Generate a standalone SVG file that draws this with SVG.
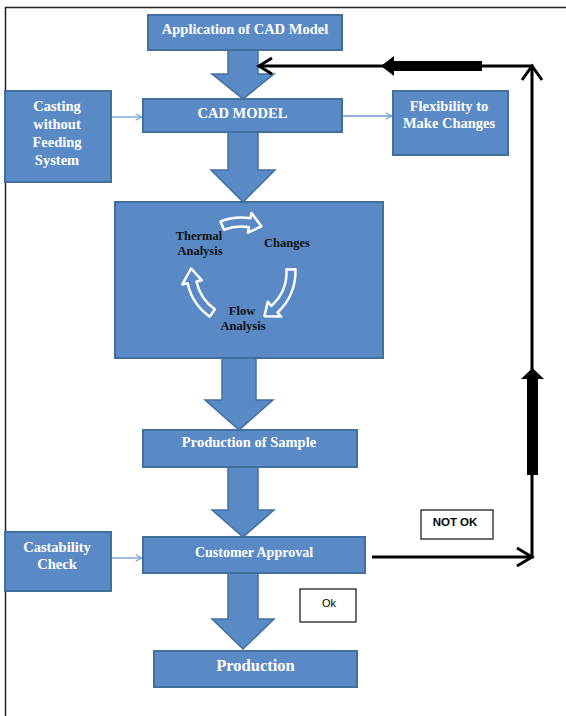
<svg xmlns="http://www.w3.org/2000/svg" width="566" height="716" viewBox="0 0 566 716">
<style>
.box{fill:#5a8ac6;stroke:#41709f;stroke-width:2}
.blk{fill:#5a8ac6;stroke:#41709f;stroke-width:1.5;stroke-linejoin:miter}
.t{font-family:"Liberation Serif",serif;font-weight:bold;font-size:14.5px;fill:#fff;text-anchor:middle}
.c{font-family:"Liberation Serif",serif;font-weight:bold;font-size:12.5px;fill:#111;text-anchor:middle}
.cyc{fill:#5a8ac6;stroke:#fff;stroke-width:2.5;stroke-linejoin:round}
.thin{stroke:#6f9ad0;stroke-width:1.3;fill:none}
.bl{stroke:#000;stroke-width:3;fill:none}
.lbl{fill:#fff;stroke:#222;stroke-width:1.3}
.s{font-family:"Liberation Sans",Arial,sans-serif;font-size:11px;fill:#000;text-anchor:middle}
</style>
<defs>
<marker id="open" viewBox="0 0 10 10" refX="9" refY="5" markerWidth="8" markerHeight="8" markerUnits="userSpaceOnUse" orient="auto">
<path d="M1,1 L9,5 L1,9" fill="none" stroke="#6f9ad0" stroke-width="1.3"/>
</marker>
</defs>
<rect width="566" height="716" fill="#fff"/>
<path d="M5.5,716 V7.5 H566" fill="none" stroke="#222" stroke-width="1.5"/>

<g id="connectors">
<polygon class="blk" points="228,50 258,50 258,74 274,74 243,99 212,74 228,74"/>
<polygon class="blk" points="228,132 258,132 258,170 275,170 243,202 211,170 228,170"/>
<polygon class="blk" points="222,358 256,358 256,400 273,400 239,430 205,400 222,400"/>
<polygon class="blk" points="228,467 258,467 258,510 274,510 243,537 212,510 228,510"/>
<polygon class="blk" points="228,573 258,573 258,619 274,619 243,649 212,619 228,619"/>
<line class="thin" x1="111" y1="117" x2="142" y2="117" marker-end="url(#open)"/>
<line class="thin" x1="342" y1="116" x2="392" y2="116" marker-end="url(#open)"/>
<line class="thin" x1="111" y1="558" x2="142" y2="558" marker-end="url(#open)"/>
<path class="bl" d="M372,557 H532 V66 H259"/>
<polyline class="bl" points="517,548 532,557 517,566"/>
<polyline class="bl" points="522,80 532,66 542,80"/>
<polyline class="bl" points="272,58 259,66 272,74"/>
<rect x="527" y="378" width="11" height="97" fill="#000"/>
<polygon points="532.5,368 544,379 521,379" fill="#000"/>
<rect x="392" y="61" width="90" height="10" fill="#000"/>
<polygon points="381,66 394,56 394,76" fill="#000"/>
</g>

<g id="app">
<rect class="box" x="148" y="15" width="194" height="35"/>
<text class="t" x="245" y="34">Application of CAD Model</text>
</g>
<g id="cad">
<rect class="box" x="143" y="99" width="199" height="33"/>
<text class="t" x="242.5" y="118">CAD MODEL</text>
</g>
<g id="casting">
<rect class="box" x="5" y="91" width="106" height="91"/>
<text class="t" x="57" y="111">Casting</text>
<text class="t" x="57" y="129">without</text>
<text class="t" x="57" y="147">Feeding</text>
<text class="t" x="57" y="165">System</text>
</g>
<g id="flex">
<rect class="box" x="393" y="91" width="115" height="64"/>
<text class="t" x="449" y="111">Flexibility to</text>
<text class="t" x="449" y="128">Make Changes</text>
</g>
<g id="analysis">
<rect class="box" x="115" y="202" width="268" height="156"/>
<path class="cyc" d="M220.58,221.47 A54.5,54.5 0 0 1 250.46,218.33 L251.42,212.91 L261.34,226.32 L247.94,232.61 L248.90,227.19 A45.5,45.5 0 0 0 223.96,229.81 Z"/>
<path class="cyc" d="M295.42,269.15 A54.5,54.5 0 0 1 277.47,312.50 L281.15,316.59 L264.47,316.15 L267.76,301.72 L271.44,305.81 A45.5,45.5 0 0 0 286.44,269.62 Z"/>
<path class="cyc" d="M209.74,316.65 A54.5,54.5 0 0 1 187.69,283.33 L182.31,284.47 L191.12,268.51 L201.88,280.32 L196.50,281.46 A45.5,45.5 0 0 0 214.90,309.27 Z"/>
<text class="c" x="199" y="240">Thermal</text>
<text class="c" x="200" y="255">Analysis</text>
<text class="c" x="287" y="247">Changes</text>
<text class="c" x="242" y="315">Flow</text>
<text class="c" x="243" y="330">Analysis</text>
</g>
<g id="sample">
<rect class="box" x="143" y="430" width="214" height="37"/>
<text class="t" x="249" y="447">Production of Sample</text>
</g>
<g id="castability">
<rect class="box" x="5" y="532" width="106" height="59"/>
<text class="t" x="57" y="552">Castability</text>
<text class="t" x="57" y="569">Check</text>
</g>
<g id="approval">
<rect class="box" x="143" y="537" width="222" height="36"/>
<text class="t" x="254" y="557" style="font-size:14px">Customer Approval</text>
</g>
<g id="production">
<rect class="box" x="154" y="651" width="203" height="36"/>
<text class="t" x="255.5" y="671" style="font-size:16.5px">Production</text>
</g>
<g id="notok">
<rect class="lbl" x="421" y="510" width="72" height="29"/>
<text class="s" x="455" y="526" style="font-weight:bold;font-size:11.5px">NOT OK</text>
</g>
<g id="ok">
<rect class="lbl" x="300" y="589" width="56" height="33"/>
<text class="s" x="329" y="607">Ok</text>
</g>
</svg>
